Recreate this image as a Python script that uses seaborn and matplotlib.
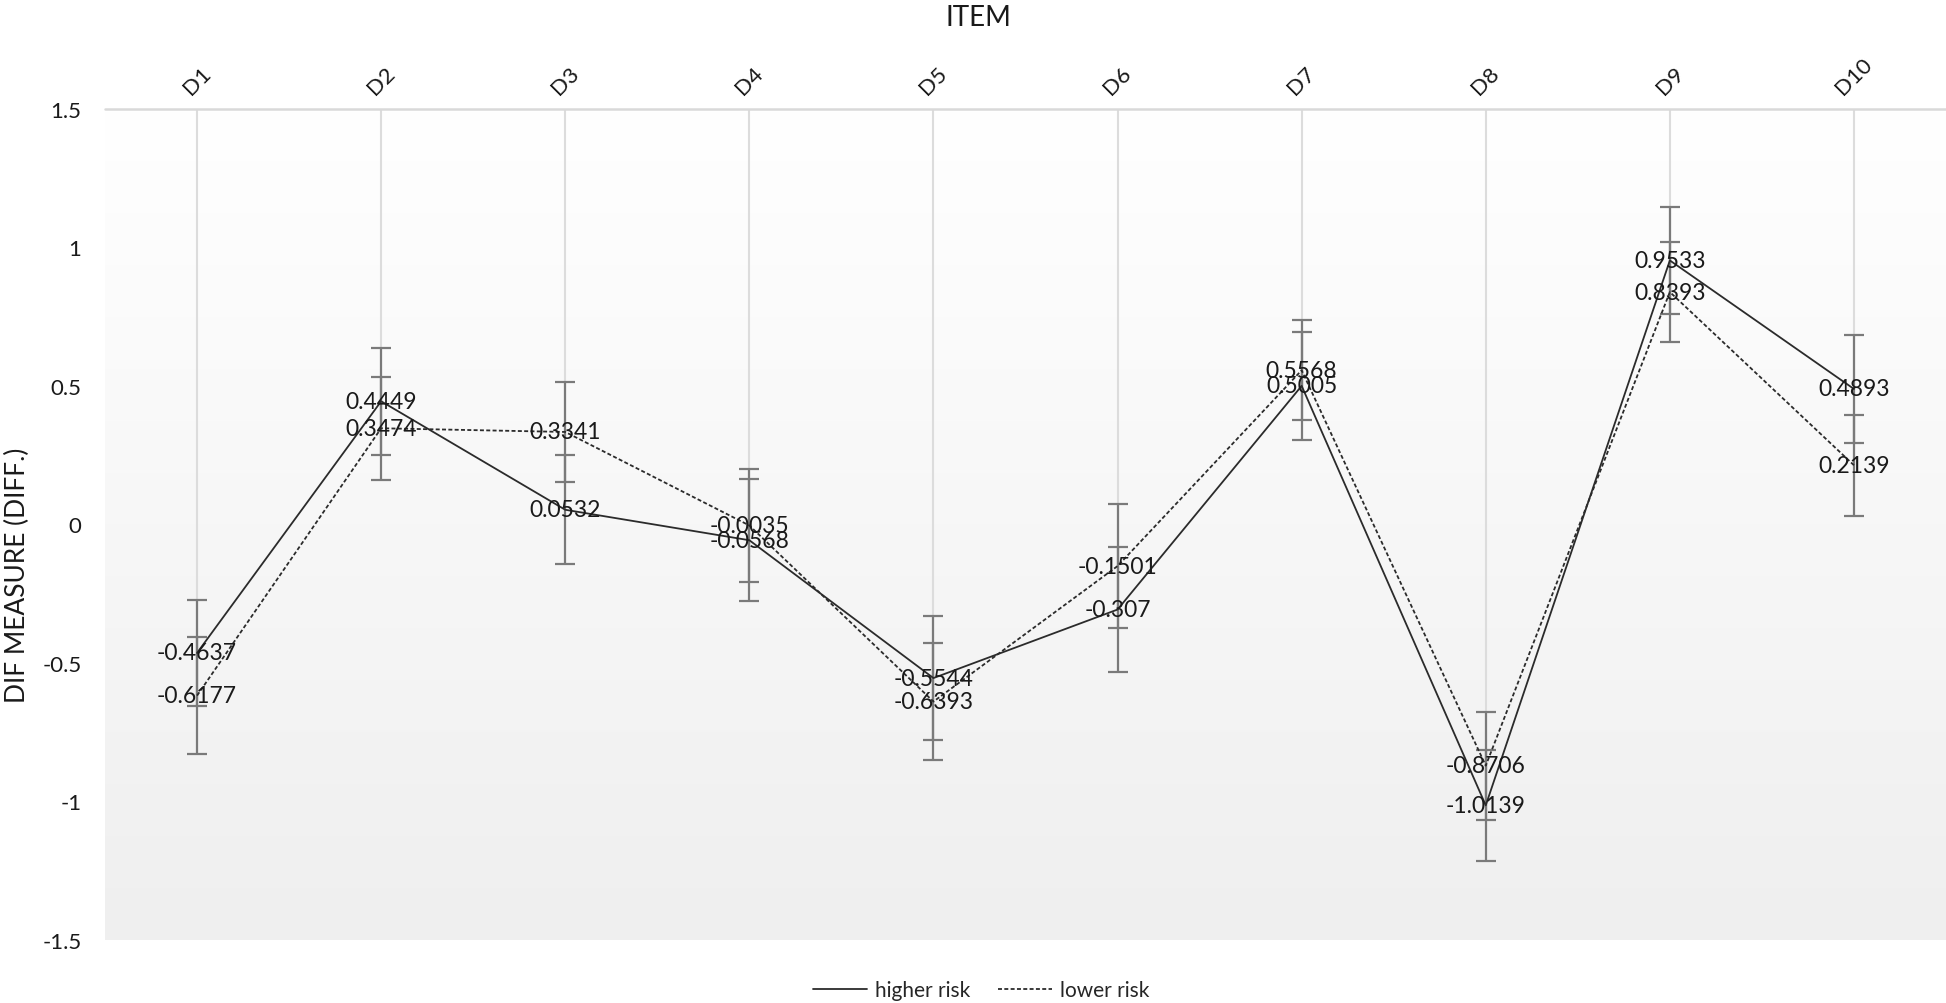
import numpy as np
import pandas as pd
import seaborn as sns
import matplotlib.pyplot as plt
from matplotlib.colors import LinearSegmentedColormap

# DIF measures per item for the two groups, with their standard errors
items = ['D1', 'D2', 'D3', 'D4', 'D5', 'D6', 'D7', 'D8', 'D9', 'D10']
higher_risk = [-0.4637, 0.4449, 0.0532, -0.0568, -0.5544, -0.307, 0.5005, -1.0139, 0.9533, 0.4893]
lower_risk = [-0.6177, 0.3474, 0.3341, -0.0035, -0.6393, -0.1501, 0.5568, -0.8706, 0.8393, 0.2139]
higher_se = [0.19, 0.193, 0.197, 0.22, 0.224, 0.225, 0.194, 0.20, 0.193, 0.194]
lower_se = [0.21, 0.185, 0.182, 0.205, 0.21, 0.225, 0.181, 0.195, 0.181, 0.182]
yticks = [-1.5, -1, -0.5, 0, 0.5, 1, 1.5]
ytick_labels = ['-1.5', '-1', '-0.5', '0', '0.5', '1', '1.5']

sns.set_theme(style='white')
plt.rcParams['font.family'] = ['Lato', 'DejaVu Sans']

pos = np.arange(len(items))
df = pd.DataFrame({
    'pos': np.concatenate([pos, pos]),
    'value': higher_risk + lower_risk,
    'group': ['higher risk'] * len(items) + ['lower risk'] * len(items),
})

fig = plt.figure(figsize=(19.46, 10.04), dpi=100)
ax = fig.add_axes([105 / 1946, 63 / 1004, 1841 / 1946, 831 / 1004])

# plot area gradient, white at top to light grey at bottom
cmap = LinearSegmentedColormap.from_list('bg', ['#ffffff', '#efefef'])
ax.imshow(np.linspace(0, 1, 256).reshape(-1, 1), cmap=cmap, extent=[0, 1, 0, 1],
          transform=ax.transAxes, aspect='auto', zorder=0)

# drop lines up to the category axis (which sits at the top)
ax.vlines(pos, np.minimum(higher_risk, lower_risk), 1.5, color='#dcdcdc', lw=1.5, zorder=1)
ax.axhline(1.5, color='#d9d9d9', lw=1.8, zorder=1, clip_on=False)

ax.errorbar(pos, higher_risk, yerr=higher_se, fmt='none', ecolor='#7a7a7a',
            elinewidth=1.6, capsize=7, capthick=1.6, zorder=2)
ax.errorbar(pos, lower_risk, yerr=lower_se, fmt='none', ecolor='#7a7a7a',
            elinewidth=1.6, capsize=7, capthick=1.6, zorder=2)

sns.lineplot(data=df, x='pos', y='value', hue='group', style='group',
             palette={'higher risk': '#2b2b2b', 'lower risk': '#2b2b2b'},
             dashes={'higher risk': '', 'lower risk': (2.2, 1.3)},
             linewidth=1.3, ax=ax, zorder=3)

for i in pos:
    ax.text(i, higher_risk[i], f'{higher_risk[i]:g}', ha='center', va='center',
            fontsize=16.5, color='#1a1a1a', zorder=4)
    ax.text(i, lower_risk[i], f'{lower_risk[i]:g}', ha='center', va='center',
            fontsize=16.5, color='#1a1a1a', zorder=4)

ax.set_xlim(-0.5, len(items) - 0.5)
ax.set_ylim(-1.5, 1.5)
ax.set_xticks(pos)
ax.set_xticklabels(items)
ax.xaxis.tick_top()
ax.tick_params(axis='x', length=0, pad=8, labelsize=16, rotation=45, colors='#1a1a1a')
ax.set_yticks(yticks)
ax.set_yticklabels(ytick_labels)
ax.tick_params(axis='y', length=0, pad=17, labelsize=16, colors='#1a1a1a')
for s in ax.spines.values():
    s.set_visible(False)
ax.grid(False)

ax.set_xlabel('')
ax.set_ylabel('DIF MEASURE (DIFF.)', fontsize=19, color='#1a1a1a')
ax.yaxis.set_label_coords(-0.041, 0.44)
fig.text(0.503, 0.982, 'ITEM', ha='center', va='center', fontsize=20, color='#1a1a1a')

handles, labels = ax.get_legend_handles_labels()
ax.legend(handles, labels, loc='center', bbox_to_anchor=(0.476, -0.06), ncol=2,
          frameon=False, fontsize=15, handlelength=2.6, handletextpad=0.4,
          columnspacing=1.3)

fig.savefig('out.png', dpi=100)
